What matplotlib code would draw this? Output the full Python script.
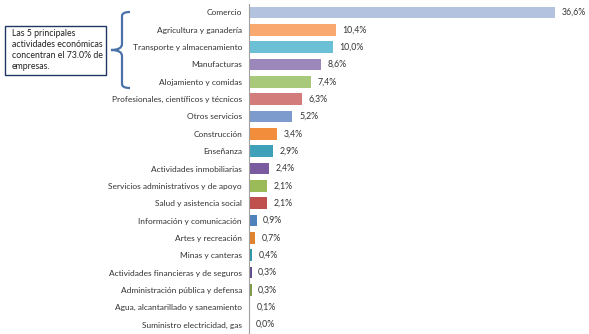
import matplotlib.pyplot as plt
from matplotlib.path import Path
from matplotlib.patches import PathPatch, Rectangle

sectores = [
    "Comercio",
    "Agricultura y ganadería",
    "Transporte y almacenamiento",
    "Manufacturas",
    "Alojamiento y comidas",
    "Profesionales, científicos y técnicos",
    "Otros servicios",
    "Construcción",
    "Enseñanza",
    "Actividades inmobiliarias",
    "Servicios administrativos y de apoyo",
    "Salud y asistencia social",
    "Información y comunicación",
    "Artes y recreación",
    "Minas y canteras",
    "Actividades financieras y de seguros",
    "Administración pública y defensa",
    "Agua, alcantarillado y saneamiento",
    "Suministro electricidad, gas",
]
porcentajes = [36.6, 10.4, 10.0, 8.6, 7.4, 6.3, 5.2, 3.4, 2.9, 2.4,
               2.1, 2.1, 0.9, 0.7, 0.4, 0.3, 0.3, 0.1, 0.0]
colores = ["#b3c3df", "#f9a96f", "#6cc0d6", "#9b87b9", "#a9c97a",
           "#d27d7c", "#7d9bcc", "#f28e3b", "#3ea1b9", "#7a5b9f",
           "#9bbb59", "#c0504d", "#4f81bd", "#e0832f", "#2f96a8",
           "#604a8c", "#7f9a48", "#963a38", "#c8d3e6"]

fig = plt.figure(figsize=(5.89, 3.34), dpi=100)
plt.rcParams['font.family'] = ['Lato', 'DejaVu Sans']
fs = 6.0

ax = fig.add_axes([249 / 589, 0.75 / 334, 331 / 589, 329.5 / 334])
pos = list(range(len(sectores)))
ax.barh(pos, porcentajes, height=0.68, color=colores)
for p, v in zip(pos, porcentajes):
    ax.text(v + 0.8, p, f"{v:.1f}%".replace(".", ","), va='center', ha='left',
            fontsize=fs + 0.3, color='#333333')
ax.set_xlim(0, 39.6)
ax.set_ylim(len(sectores) - 0.5, -0.5)
ax.set_yticks(pos)
ax.set_yticklabels(sectores, fontsize=fs, color='#333333')
ax.tick_params(axis='y', length=0, pad=5)
ax.set_xticks([])
for s in ['top', 'right', 'bottom']:
    ax.spines[s].set_visible(False)
ax.spines['left'].set_color('#a0a0a0')
ax.spines['left'].set_linewidth(0.8)

# cuadro de texto
W, H = 589.0, 334.0
def fx(x):
    return x / W
def fy(y):
    return 1 - y / H

fig.patches.append(Rectangle((fx(5), fy(75)), fx(101), 49 / H, transform=fig.transFigure,
                             fill=False, edgecolor='#1f3864', linewidth=1.0))
fig.text(fx(12), fy(50), "Las 5 principales\nactividades económicas\nconcentran el 73.0% de\nempresas.",
         ha='left', va='center', fontsize=fs + 0.3, color='#222222', linespacing=1.3)

# llave
verts = [
    (fx(130), fy(12)), (fx(122), fy(12)), (fx(122), fy(16)),
    (fx(122), fy(44)), (fx(122), fy(50)), (fx(111), fy(50)),
    (fx(122), fy(50)), (fx(122), fy(56)),
    (fx(122), fy(84)), (fx(122), fy(88)), (fx(130), fy(88)),
]
codes = [Path.MOVETO, Path.CURVE3, Path.CURVE3,
         Path.LINETO, Path.CURVE3, Path.CURVE3,
         Path.CURVE3, Path.CURVE3,
         Path.LINETO, Path.CURVE3, Path.CURVE3]
fig.patches.append(PathPatch(Path(verts, codes), transform=fig.transFigure,
                             fill=False, edgecolor='#4a72a8', linewidth=1.6))

fig.savefig("out.png", dpi=100)
